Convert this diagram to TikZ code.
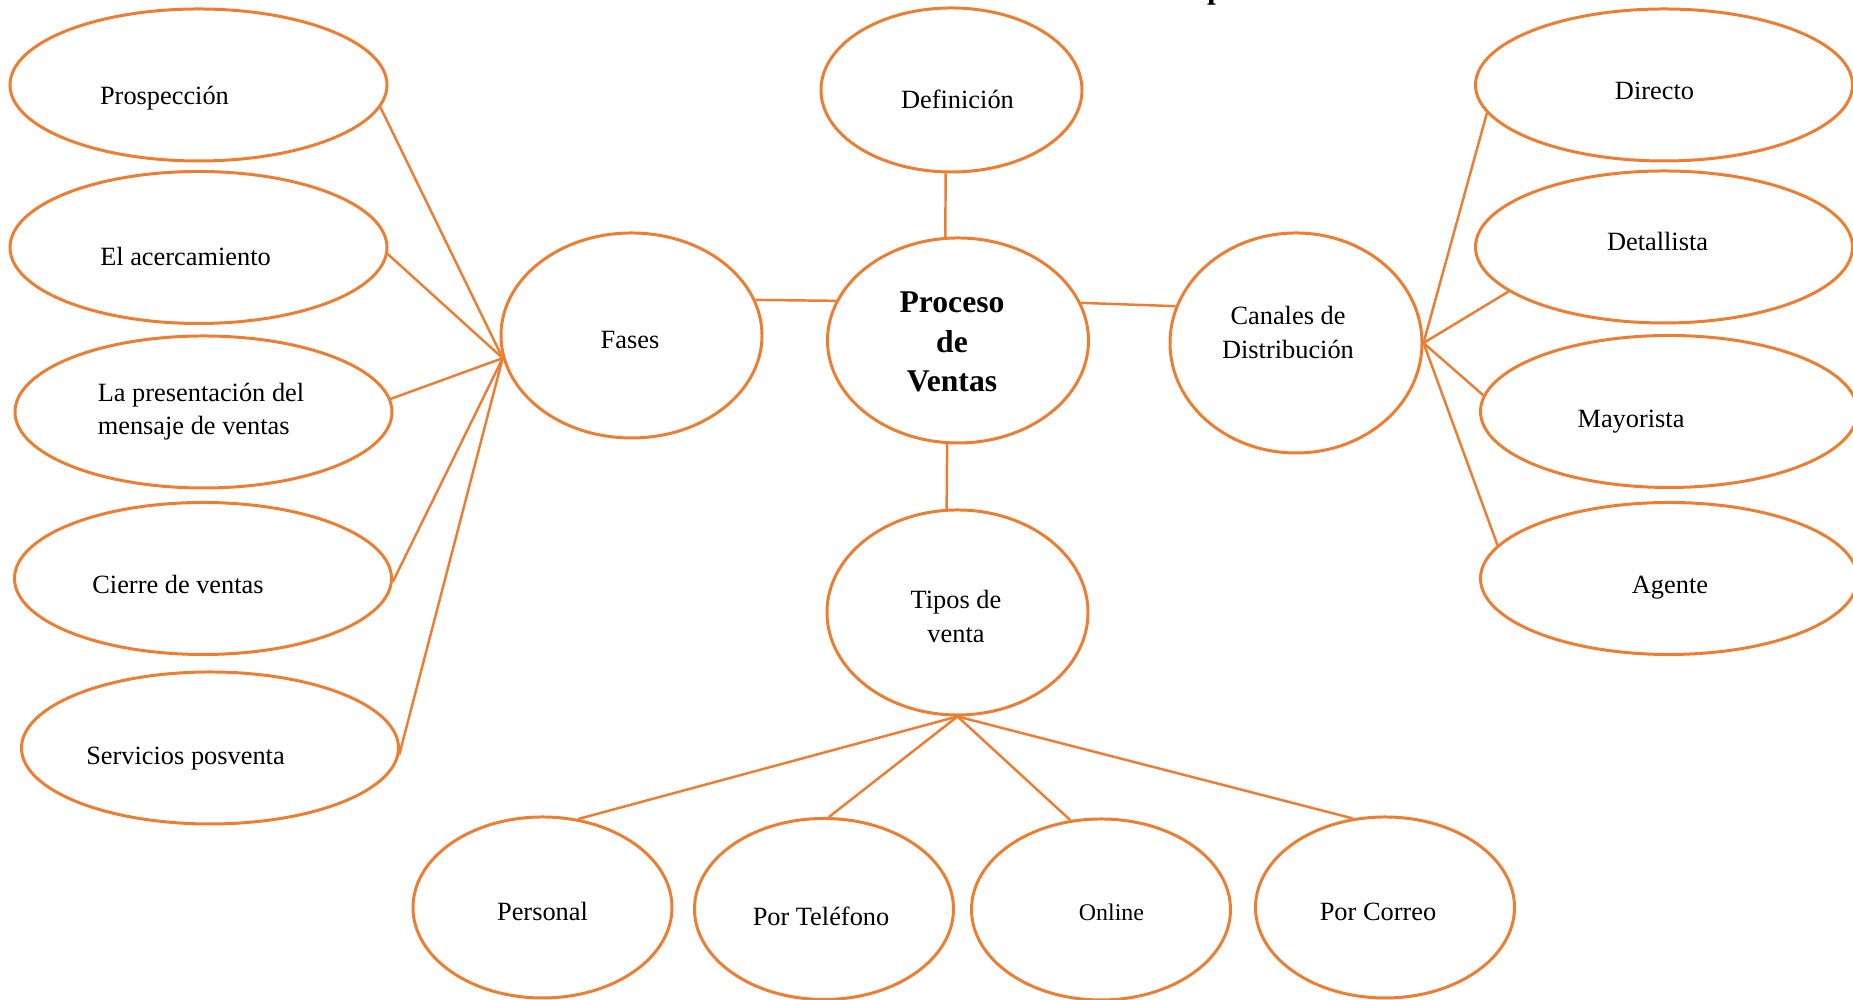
\documentclass[tikz,border=0pt]{standalone}
\usepackage{fontspec}
\setmainfont{Liberation Serif}
\usetikzlibrary{shapes.geometric}
\definecolor{naranja}{RGB}{237,125,49}
\tikzset{
	burbuja/.style={draw=naranja, line width=0.85pt, ellipse, inner sep=0pt},
	hoja/.style={minimum width=3.77cm, minimum height=1.52cm},
	nucleo/.style={minimum width=2.61cm, minimum height=2.05cm},
	base/.style={minimum width=2.59cm, minimum height=1.81cm},
	rama/.style={draw=naranja, line width=0.7pt},
	texto/.style={inner sep=0pt, align=center, font=\fontsize{7.5}{9.4}\selectfont}
}

\begin{document}
\begin{tikzpicture}
		\useasboundingbox (0,0) rectangle (18.53,10);
		
		%title, cut off at the top
		\node[inner sep=0pt, anchor=base, font=\bfseries\fontsize{9}{11}\selectfont] (titulo) at (12.16,10.015) {p};
		
		%central bubbles
		\node[burbuja, nucleo] (proceso) at (9.58,6.595) {};
		\node[burbuja, nucleo] (fases) at (6.315,6.645) {};
		\node[burbuja, minimum width=2.61cm, minimum height=1.64cm] (defin) at (9.515,9.10) {};
		\node[burbuja, minimum width=2.52cm, minimum height=2.20cm] (canales) at (12.96,6.57) {};
		\node[burbuja, nucleo] (tipos) at (9.575,3.875) {};
		
		%phases (left)
		\node[burbuja, hoja] (prosp) at (1.985,9.15) {};
		\node[burbuja, hoja] (acerc) at (1.985,7.525) {};
		\node[burbuja, hoja] (present) at (2.035,5.88) {};
		\node[burbuja, hoja] (cierre) at (2.03,4.215) {};
		\node[burbuja, hoja] (posv) at (2.10,2.52) {};
		
		%channels (right)
		\node[burbuja, hoja] (directo) at (16.64,9.15) {};
		\node[burbuja, hoja] (detall) at (16.64,7.53) {};
		\node[burbuja, hoja] (mayor) at (16.69,5.885) {};
		\node[burbuja, hoja] (agente) at (16.69,4.215) {};
		
		%sale types (bottom)
		\node[burbuja, base] (personal) at (5.425,0.925) {};
		\node[burbuja, base] (telef) at (8.24,0.91) {};
		\node[burbuja, base] (online) at (11.01,0.905) {};
		\node[burbuja, base] (correo) at (13.85,0.925) {};
		
		%texts
		\node[texto, font=\bfseries\fontsize{9}{11.2}\selectfont] (t-proceso) at (9.52,6.58) {Proceso\\de\\Ventas};
		\node[texto] (t-fases) at (6.30,6.60) {Fases};
		\node[texto] (t-defin) at (9.575,9.01) {Definición};
		\node[texto] (t-canales) at (12.88,6.675) {Canales de\\Distribución};
		\node[texto] (t-tipos) at (9.56,3.835) {Tipos de\\venta};
		
		\node[texto] (t-prosp) at (1.645,9.02) {Prospección};
		\node[texto] (t-acerc) at (1.855,7.435) {El acercamiento};
		\node[texto, align=left] (t-present) at (2.01,5.88) {La presentación del\\mensaje de ventas};
		\node[texto] (t-cierre) at (1.78,4.15) {Cierre de ventas};
		\node[texto] (t-posv) at (1.855,2.415) {Servicios posventa};
		
		\node[texto] (t-directo) at (16.545,9.09) {Directo};
		\node[texto] (t-detall) at (16.575,7.58) {Detallista};
		\node[texto] (t-mayor) at (16.31,5.78) {Mayorista};
		\node[texto] (t-agente) at (16.70,4.125) {Agente};
		
		\node[texto] (t-personal) at (5.425,0.885) {Personal};
		\node[texto] (t-telef) at (8.21,0.835) {Por Teléfono};
		\node[texto, font=\fontsize{6.8}{8}\selectfont] (t-online) at (11.115,0.875) {Online};
		\node[texto] (t-correo) at (13.78,0.885) {Por Correo};
		
		%connectors from the centre
		\draw[rama] (defin.-94) -- (proceso.97);
		\draw[rama] (fases.16) -- (proceso.162);
		\draw[rama] (proceso.17) -- (canales.163);
		\draw[rama] (proceso.-96) -- (tipos.96);
		
		%fans
		\coordinate (hubF) at (fases.190);
		\coordinate (hubC) at (canales.east);
		\coordinate (hubT) at (tipos.south);
		\foreach \n/\a in {prosp/-7, acerc/-2, present/4, cierre/-1, posv/-2}
		\draw[rama] (hubF) -- (\n.\a);
		\foreach \n/\a in {directo/189, detall/196, mayor/175, agente/169}
		\draw[rama] (hubC) -- (\n.\a);
		\foreach \n/\a in {personal/68, telef/87, online/109, correo/110}
		\draw[rama] (hubT) -- (\n.\a);
\end{tikzpicture}
\end{document}
